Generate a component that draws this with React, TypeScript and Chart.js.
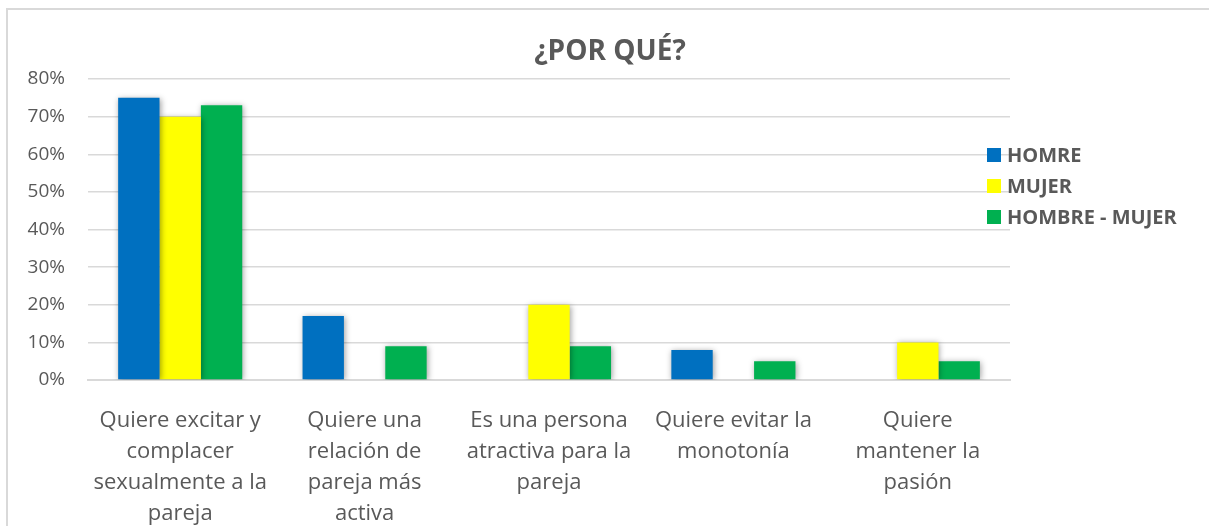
import React, { useEffect, useRef } from "react";
import { Chart, registerables } from "chart.js";

Chart.register(...registerables);

const categories: string[][] = [
  ["Quiere excitar y", "complacer", "sexualmente a la", "pareja"],
  ["Quiere una", "relación de", "pareja más", "activa"],
  ["Es una persona", "atractiva para la", "pareja"],
  ["Quiere evitar la", "monotonía"],
  ["Quiere", "mantener la", "pasión"],
];
const seriesNames = ["HOMRE", "MUJER", "HOMBRE - MUJER"];
const homre = [75, 17, 0, 8, 0];
const mujer = [70, 0, 20, 0, 10];
const hombreMujer = [73, 9, 9, 5, 5];
const colors = ["#0070C0", "#FFFF00", "#00B050"];
const yTicks = [0, 10, 20, 30, 40, 50, 60, 70, 80];
const titleText = "¿POR QUÉ?";

const FONT = "'Open Sans', 'DejaVu Sans', sans-serif";
const GRAY = "#595959";

const shadowPlugin = {
  id: "barShadow",
  beforeDatasetsDraw(chart: any) {
    const ctx = chart.ctx;
    ctx.save();
    ctx.shadowColor = "rgba(0,0,0,0.38)";
    ctx.shadowBlur = 6;
    ctx.shadowOffsetX = 1;
    ctx.shadowOffsetY = 1;
  },
  afterDatasetsDraw(chart: any) {
    chart.ctx.restore();
  },
};

const titleLegendPlugin = {
  id: "titleLegend",
  afterDraw(chart: any) {
    const ctx = chart.ctx;
    ctx.save();
    ctx.fillStyle = GRAY;
    ctx.font = `bold 28px ${FONT}`;
    ctx.textAlign = "center";
    ctx.textBaseline = "middle";
    ctx.fillText(titleText, 610, 52);

    ctx.font = `bold 20px ${FONT}`;
    ctx.textAlign = "left";
    const ys = [155, 186, 217];
    chart.data.datasets.forEach((ds: any, i: number) => {
      ctx.fillStyle = ds.backgroundColor;
      ctx.fillRect(987, ys[i] - 7, 14, 14);
      ctx.fillStyle = GRAY;
      ctx.fillText(ds.label, 1007, ys[i] + 1);
    });
    ctx.restore();
  },
};

export default function App() {
  const ref = useRef<HTMLCanvasElement | null>(null);
  useEffect(() => {
    document.body.style.margin = "0";
    if (!ref.current) return;
    const chart = new Chart(ref.current, {
      type: "bar",
      data: {
        labels: categories,
        datasets: [homre, mujer, hombreMujer].map((d, i) => ({
          label: seriesNames[i],
          data: d,
          backgroundColor: colors[i],
          borderWidth: 0,
          barPercentage: 1,
          categoryPercentage: 0.673,
        })),
      },
      options: {
        responsive: false,
        animation: false,
        layout: { padding: { top: 79, right: 199, bottom: 0, left: 0 } },
        plugins: {
          legend: { display: false },
          title: { display: false },
          tooltip: { enabled: false },
        },
        scales: {
          x: {
            grid: { display: false, drawTicks: false },
            border: { display: true, color: "#d9d9d9", width: 2 },
            ticks: {
              color: GRAY,
              font: { family: FONT, size: 22, lineHeight: 1.41 },
              padding: 25,
              maxRotation: 0,
              autoSkip: false,
            },
            afterFit(scale: any) {
              scale.height = 146;
            },
          },
          y: {
            min: 0,
            max: 80,
            afterBuildTicks(scale: any) {
              scale.ticks = yTicks.map((v) => ({ value: v }));
            },
            grid: { color: "#d9d9d9", lineWidth: 1.5, drawTicks: false },
            border: { display: false },
            ticks: {
              color: GRAY,
              font: { family: FONT, size: 19 },
              padding: 23,
              callback: (v: any) => `${v}%`,
            },
            afterFit(scale: any) {
              scale.width = 88;
            },
          },
        },
      },
      plugins: [shadowPlugin, titleLegendPlugin],
    });
    return () => chart.destroy();
  }, []);

  return (
    <div style={{ position: "relative", width: 1209, height: 526, overflow: "hidden", background: "#fff" }}>
      <div
        style={{
          position: "absolute",
          left: 6,
          top: 8,
          width: 1400,
          height: 700,
          border: "2px solid #d9d9d9",
          boxSizing: "border-box",
        }}
      />
      <canvas ref={ref} width={1209} height={526} style={{ position: "absolute", left: 0, top: 0 }} />
    </div>
  );
}
